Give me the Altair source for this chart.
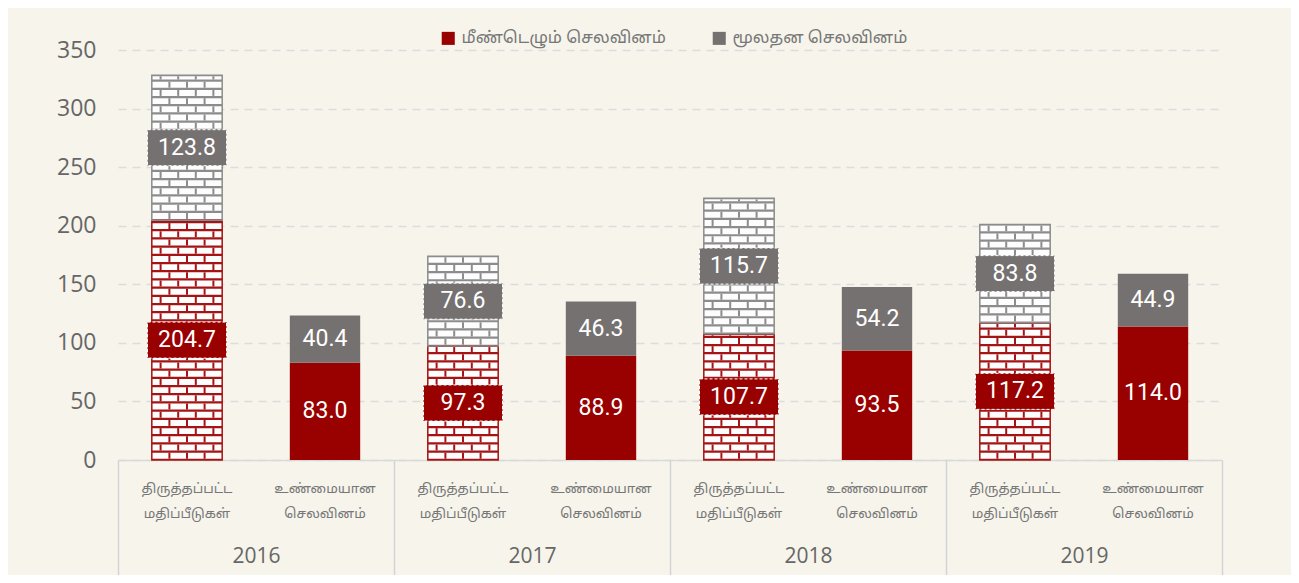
import altair as alt
import pandas as pd

# ---------------- data ----------------
years = ["2016", "2017", "2018", "2019"]
est_recurrent = [204.7, 97.3, 107.7, 117.2]
est_capital = [123.8, 76.6, 115.7, 83.8]
act_recurrent = [83.0, 88.9, 93.5, 114.0]
act_capital = [40.4, 46.3, 54.2, 44.9]

series_names = ["மீண்டெழும்  செலவினம்", "மூலதன  செலவினம்"]
kind_labels = [["திருத்தப்பட்ட", "மதிப்பீடுகள்"], ["உண்மையான", "செலவினம்"]]
y_ticks = [0, 50, 100, 150, 200, 250, 300, 350]

# ---------------- styles ----------------
RED = "#990000"
GREY = "#767171"
MORTAR_RED = "#a51414"
MORTAR_GREY = "#8c8c8c"
BRICK = "#fdfdfd"
BG = "#f6f4eb"
TAMIL = "Latha, 'Noto Sans Tamil', 'Lohit Tamil', 'Noto Sans', sans-serif"
NUM_FONT = "Roboto"

records = []
for i, yr in enumerate(years):
    pairs = [(est_recurrent[i], est_capital[i]), (act_recurrent[i], act_capital[i])]
    for k, (rec, cap) in enumerate(pairs):
        slot = f"{yr}|{k}"
        records.append(dict(slot=slot, year=yr, kind=k, series=series_names[0],
                            start=0.0, end=rec, value=rec))
        records.append(dict(slot=slot, year=yr, kind=k, series=series_names[1],
                            start=rec, end=rec + cap, value=cap))
df = pd.DataFrame(records)
slot_order = [f"{yr}|{k}" for yr in years for k in (0, 1)]

label_expr = (
    "indexof(datum.value, '|0') > 0 ? "
    f"['{kind_labels[0][0]}', '{kind_labels[0][1]}'] : "
    f"['{kind_labels[1][0]}', '{kind_labels[1][1]}']"
)

color_scale = alt.Scale(domain=series_names, range=[RED, GREY])
mortar_scale = alt.Scale(domain=series_names, range=[MORTAR_RED, MORTAR_GREY])

x_enc = alt.X(
    "slot:N", sort=slot_order,
    scale=alt.Scale(type="band", paddingInner=0.49, paddingOuter=0.245),
    axis=alt.Axis(orient="bottom", title=None, labelExpr=label_expr, labelAngle=0,
                  labelFont=TAMIL, labelFontSize=13.5, labelColor="#777777",
                  labelPadding=21, labelLineHeight=25, labelBaseline="top",
                  ticks=False, domain=True, domainColor="#d9d9d9", domainWidth=1.5,
                  grid=False),
)
y_scale = alt.Scale(domain=[0, 350], nice=False)
y_axis = alt.Axis(values=y_ticks, title=None, grid=True, gridDash=[8, 6],
                  gridColor="#dcdcdc", gridWidth=1.5, domain=False, ticks=False,
                  labelFont="Open Sans", labelFontSize=23, labelColor="#666666",
                  labelPadding=22)

base = alt.Chart(df).transform_calculate(mid="(datum.start + datum.end) / 2")

solid = base.transform_filter("datum.kind == 1").mark_bar().encode(
    x=x_enc,
    y=alt.Y("start:Q", scale=y_scale, axis=y_axis),
    y2="end:Q",
    color=alt.Color("series:N", scale=color_scale, sort=series_names,
                    legend=alt.Legend(orient="none", legendX=322, legendY=-20,
                                      direction="horizontal", title=None,
                                      symbolType="square", symbolSize=170,
                                      symbolStrokeWidth=0, labelLimit=0,
                                      labelFont=TAMIL, labelFontSize=16.5,
                                      labelColor="#777777", columnPadding=40,
                                      labelOffset=5)),
)

est = base.transform_filter("datum.kind == 0")

brick_base = est.mark_bar().encode(
    x=x_enc, y=alt.Y("start:Q", scale=y_scale), y2="end:Q",
    fill=alt.Fill("series:N", scale=mortar_scale, legend=None),
)

bricks = (
    est.transform_calculate(brow="sequence(datum.start, datum.end - 1, 7)")
    .transform_flatten(["brow"])
    .transform_calculate(
        ri="round((datum.brow - datum.start) / 7)",
        r0="datum.brow + 1.1",
        r1="min(datum.brow + 6.2, datum.end - 0.9)",
    )
    .transform_filter("datum.r1 > datum.r0")
)

brick_rows = bricks.mark_bar(color=BRICK).encode(
    x=x_enc, y=alt.Y("r0:Q", scale=y_scale), y2="r1:Q",
)

joints = (
    bricks.transform_calculate(jl="datum.ri % 2 == 0 ? [2, 4, 6] : [1, 3, 5, 7]")
    .transform_flatten(["jl"])
    .mark_rule(strokeWidth=2)
    .encode(
        x=x_enc,
        xOffset=alt.XOffset("jl:O", scale=alt.Scale(domain=[1, 2, 3, 4, 5, 6, 7],
                                                    paddingInner=0, paddingOuter=0.5)),
        y=alt.Y("r0:Q", scale=y_scale), y2="r1:Q",
        stroke=alt.Stroke("series:N", scale=mortar_scale, legend=None),
    )
)

outline = est.mark_bar(fillOpacity=0, strokeWidth=1.5).encode(
    x=x_enc, y=alt.Y("start:Q", scale=y_scale), y2="end:Q",
    stroke=alt.Stroke("series:N", scale=mortar_scale, legend=None),
)

BOX = "M-1,-0.456L1,-0.456L1,0.456L-1,0.456Z"
boxes = est.mark_point(shape=BOX, size=79 * 79, filled=True, opacity=1,
                       stroke="white", strokeWidth=1, strokeDash=[3, 2]).encode(
    x=x_enc, y=alt.Y("mid:Q", scale=y_scale),
    color=alt.Color("series:N", scale=color_scale, sort=series_names),
)

labels = base.mark_text(color="white", font=NUM_FONT, fontSize=23).encode(
    x=x_enc, y=alt.Y("mid:Q", scale=y_scale),
    text=alt.Text("value:Q", format=".1f"),
)

main = alt.layer(solid, brick_base, brick_rows, joints, outline, boxes, labels)

year_layer = alt.Chart(pd.DataFrame({"year": years})).mark_rule(opacity=0).encode(
    x=alt.X("year:O", sort=years,
            scale=alt.Scale(type="band", paddingInner=0, paddingOuter=0),
            axis=alt.Axis(orient="bottom", title=None, domain=False, ticks=True,
                          tickBand="extent", tickSize=115, tickColor="#d4d4d4",
                          tickWidth=1.5, labelPadding=-30, labelAngle=0,
                          labelFont="Open Sans", labelFontSize=21,
                          labelColor="#666666", grid=False)),
)

chart = (
    alt.layer(main, year_layer)
    .resolve_scale(x="independent")
    .properties(width=1104, height=410,
                autosize=alt.AutoSizeParams(type="none"),
                padding={"left": 110, "top": 42, "right": 69, "bottom": 115},
                background=BG)
    .configure_view(stroke=None)
)

chart.save("out.html", embed_options={"renderer": "svg", "actions": False})
